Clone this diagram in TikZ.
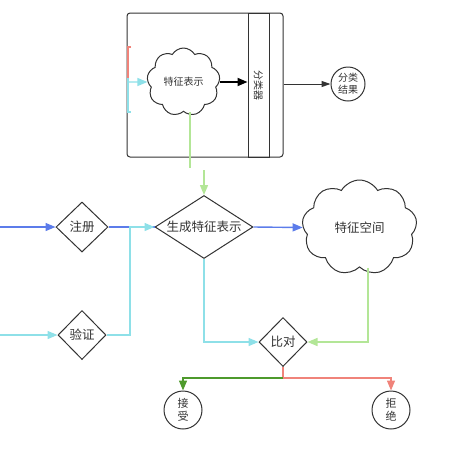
\documentclass[tikz,border=0pt]{standalone}
\usepackage{fontspec}
\newfontfamily\cjk{Noto Sans CJK SC}
\usetikzlibrary{shapes.geometric,shapes.symbols,arrows.meta}
\definecolor{cblue}{HTML}{5C7CEA}
\definecolor{ccyan}{HTML}{8EE0E8}
\definecolor{cgreen}{HTML}{B3E697}
\definecolor{cdgreen}{HTML}{4E9A2C}
\definecolor{cred}{HTML}{F0837A}
\definecolor{cdark}{HTML}{333333}
\begin{document}
\begin{tikzpicture}[x=1pt,y=-1pt,
  base/.style={draw=cdark, line width=1pt, text=cdark, inner sep=0pt},
  dia/.style={base, diamond, font=\cjk\fontsize{12.5}{15}\selectfont},
  cld/.style={base, cloud, cloud puffs=9, cloud puff arc=120, aspect=1, cloud ignores aspect},
  circ/.style={base, circle, align=center, font=\cjk\fontsize{11}{13}\selectfont},
  edge/.style={line width=1.4pt, -{Triangle[length=10pt,width=8pt]}},
  plain/.style={line width=1.4pt}
]
\useasboundingbox (0,0) rectangle (468,467);

% container
\node[base, rounded corners=3pt, minimum width=156pt, minimum height=144pt] (box) at (205,85) {};
\node[base, minimum width=21pt, minimum height=144pt, font=\cjk\fontsize{10}{12}\selectfont] (clf) at (258.5,85) {\rotatebox{-90}{分类器}};
\node[cld, minimum width=73pt, minimum height=68pt, font=\cjk\fontsize{10}{12}\selectfont] (rep) at (183.5,82) {特征表示};
\node[circ, minimum size=34pt, font=\cjk\fontsize{10}{12}\selectfont] (res) at (348,84) {分类\\结果};

% main flow nodes
\node[dia, minimum width=52pt, minimum height=50pt] (reg) at (82,227) {注册};
\node[dia, minimum width=48pt, minimum height=49pt] (ver) at (82,335) {验证};
\node[dia, aspect=1.55, minimum width=98pt, minimum height=63pt] (gen) at (204,227) {生成特征表示};
\node[cld, minimum width=115pt, minimum height=95pt, font=\cjk\fontsize{12.5}{15}\selectfont] (space) at (359.5,227.5) {特征空间};
\node[dia, minimum width=48pt, minimum height=49pt] (cmp) at (283,342) {比对};
\node[circ, minimum size=38pt] (acc) at (183,410) {接\\受};
\node[circ, minimum size=38pt] (rej) at (391,410) {拒\\绝};

% coordinates
\coordinate (in1) at (0,227);
\coordinate (in2) at (0,335);
\coordinate (j) at (130,335);
\coordinate (g1) at (190,168);
\coordinate (g2) at (204,170);
\coordinate (k) at (368,0);
\coordinate (fork) at (283,378);
\coordinate (lr1) at (131,47);
\coordinate (lr2) at (128,47);
\coordinate (lm) at (128,78);
\coordinate (lc) at (128,112);
\coordinate (lc2) at (131,112);
\coordinate (la) at (128,82);

% legend-like lines at container left
\draw[cred, line width=2pt] (lr1) -- (lr2) -- (lm);
\draw[ccyan, line width=2pt] (lm) -- (lc) -- (lc2);
\draw[ccyan, edge] (la) -- (rep.west);

% container connectors
\draw[black, line width=1.8pt, -{Triangle[length=10pt,width=8pt]}] (rep.east) -- (rep.east -| clf.west);
\draw[cdark, line width=1pt, -{Triangle[length=9pt,width=6pt]}] (box.east |- res.west) -- (res.west);
\draw[cgreen, plain] (rep.south -| g1) -- (g1);
\draw[cgreen, edge] (g2) -- (gen.north);

% flow connectors
\draw[cblue, edge] (in1) -- (reg.west);
\draw[cblue, plain] (reg.east) -- (gen.west);
\draw[ccyan, edge] (in2) -- (ver.west);
\draw[ccyan, edge] (ver.east) -- (j) |- (gen.west);
\draw[cblue, edge] (gen.east) -- (space.west);
\draw[ccyan, edge] (gen.south) |- (cmp.west);
\draw[cgreen, edge] (space.south -| k) |- (cmp.east);
\draw[cred, edge] (cmp.south) -- (fork) -| (rej.north);
\draw[cdgreen, edge] (fork) -| (acc.north);
\end{tikzpicture}
\end{document}
